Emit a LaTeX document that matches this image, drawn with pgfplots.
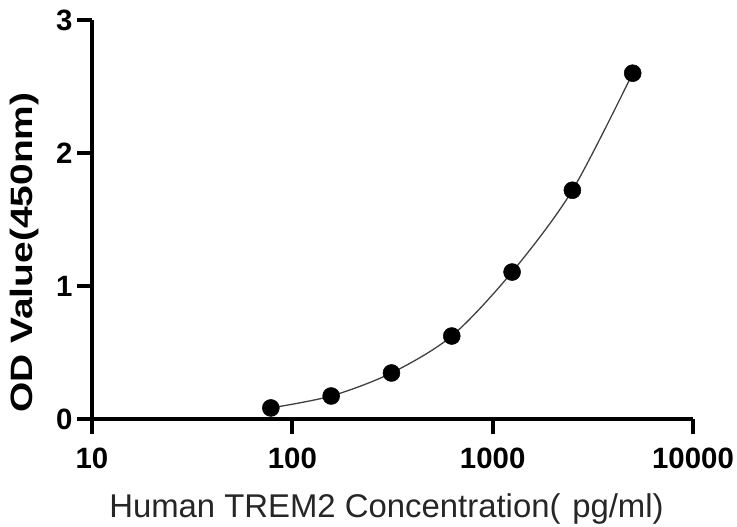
\documentclass[border=0pt]{standalone}
\usepackage{pgfplots}
\pgfplotsset{compat=1.18}
\usepackage{fontspec}
\setmainfont{Liberation Sans}
\begin{document}
\begin{tikzpicture}
\path[use as bounding box] (0,0) rectangle (737bp,527bp);
\begin{axis}[
  at={(92bp,108bp)}, anchor=south west,
  scale only axis, width=601bp, height=399bp,
  xmode=log, xmin=10, xmax=10000,
  ymin=0, ymax=3,
  axis x line*=bottom, axis y line*=left,
  axis line style={-, line width=3.8bp, black},
  xtick={10,100,1000,10000},
  xticklabels={10,100,1000,10000},
  ytick={0,1,2,3},
  xminorticks=false, yminorticks=false,
  tick align=outside, major tick length=15bp,
  major tick style={line width=3.8bp, black},
  /pgf/number format/assume math mode=true,
  ticklabel style={font=\fontsize{29.5}{32}\selectfont\bfseries},
  yticklabel style={xshift=-1bp},
  xticklabel style={yshift=-10bp},
  xlabel={Human TREM2 Concentration(\hspace{0.08em} pg/ml)},
  xlabel style={font=\fontsize{33}{36}\selectfont, text=black!85, at={(axis description cs:0.49,-0.248)}, anchor=base},
  ylabel={\scalebox{1.26}[1]{OD Value(450nm)}},
  ylabel style={font=\fontsize{31}{34}\selectfont\bfseries, at={(axis description cs:-0.1115,0.417)}, anchor=center, rotate=0},
  clip=false,
]
\addplot[smooth, line width=1.3bp, black!75, mark=*, mark size=8.5bp, mark options={fill=black, draw=black, line width=0.5bp}]
coordinates {
(78.125,0.083)
(156.25,0.173)
(312.5,0.346)
(625,0.624)
(1250,1.105)
(2500,1.72)
(5000,2.60)
};
\end{axis}
\end{tikzpicture}
\end{document}
